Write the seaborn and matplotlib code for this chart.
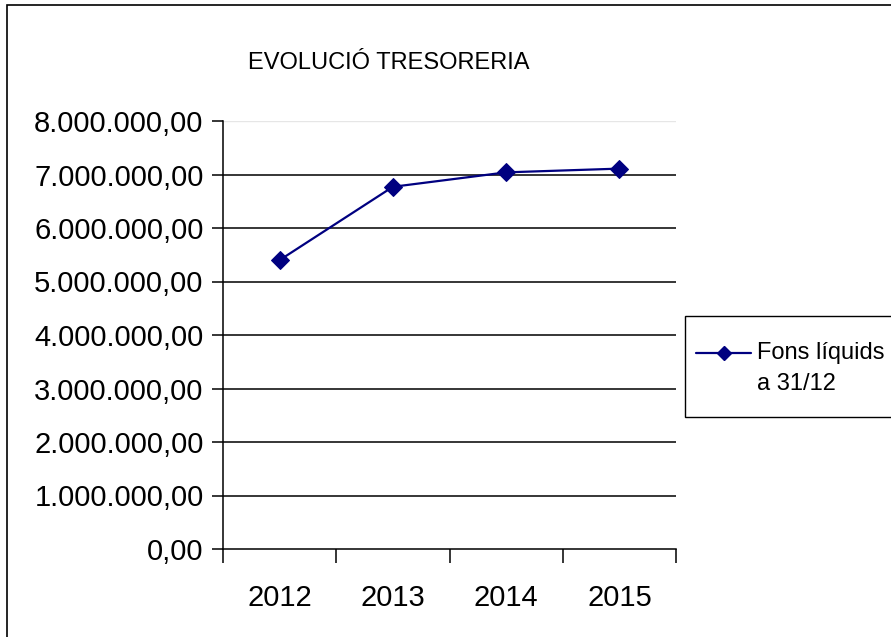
import numpy as np
import matplotlib
matplotlib.use("Agg")
import matplotlib.pyplot as plt
import matplotlib.ticker as mticker
import matplotlib.patches as mpatches
import seaborn as sns
import pandas as pd

years = ["2012", "2013", "2014", "2015"]
fons = [5400000, 6770000, 7040000, 7110000]
serie = "Fons líquids\na 31/12"
titol = "EVOLUCIÓ TRESORERIA"

df = pd.DataFrame({"any": years, "fons": fons})

sns.set_theme(style="white")
plt.rcParams['font.family'] = ['Liberation Sans', 'DejaVu Sans']
plt.rcParams['text.color'] = 'black'
plt.rcParams['xtick.color'] = 'black'
plt.rcParams['ytick.color'] = 'black'

W, H = 891, 637
fig = plt.figure(figsize=(W / 100, H / 100), dpi=100)
# plot area in pixels: x 223..676, y 121..549
ax = fig.add_axes([223 / W, 1 - 549 / H, (676 - 223) / W, (549 - 121) / H])

sns.lineplot(data=df, x="any", y="fons", ax=ax, color="#000080", marker="D",
             markersize=9, markeredgecolor="#000080", linewidth=1.6,
             sort=False, label=serie, legend=False)

ax.set_xlim(-0.5, len(years) - 0.5)
ax.set_ylim(0, 8000000)
ax.set_yticks(np.arange(0, 8000001, 1000000))


def fmt(v, pos):
    s = f"{v:,.2f}"
    return s.replace(",", "X").replace(".", ",").replace("X", ".")


ax.yaxis.set_major_formatter(mticker.FuncFormatter(fmt))
ax.set_xlabel("")
ax.set_ylabel("")

# gridlines
for v in range(1000000, 8000000, 1000000):
    ax.axhline(v, color="black", linewidth=1.1, zorder=0)
ax.axhline(8000000, color="#e6e6e6", linewidth=1.0, zorder=0)

for s in ["top", "right"]:
    ax.spines[s].set_visible(False)
for s in ["left", "bottom"]:
    ax.spines[s].set_visible(True)
    ax.spines[s].set_color("black")
    ax.spines[s].set_linewidth(1.1)

# x ticks on category boundaries
ax.set_xticks(np.arange(-0.5, len(years), 1.0))
ax.set_xticklabels([])
ax.set_xticks(np.arange(len(years)), minor=True)
ax.set_xticklabels(years, minor=True)
ax.tick_params(axis="x", which="major", direction="out", length=10, width=1.1,
               color="black", bottom=True)
ax.tick_params(axis="x", which="minor", length=0, labelsize=21, pad=25,
               labelcolor="black")
ax.tick_params(axis="y", direction="out", length=8, width=1.1, color="black",
               left=True, labelsize=21, pad=6, labelcolor="black")

fig.text(389 / W, 1 - 63 / H, titol, ha="center", va="center", fontsize=17)

# legend box
lx0, ly0, lx1, ly1 = 685, 316, 900, 417
fig.patches.append(mpatches.Rectangle((lx0 / W, 1 - ly1 / H), (lx1 - lx0) / W,
                                      (ly1 - ly0) / H, transform=fig.transFigure,
                                      facecolor="white", edgecolor="black",
                                      linewidth=1.0))
fig.lines.append(plt.Line2D([696 / W, 751 / W], [1 - 353 / H] * 2,
                            transform=fig.transFigure, color="#000080",
                            linewidth=1.6, marker=None))
fig.lines.append(plt.Line2D([723.5 / W], [1 - 353 / H], transform=fig.transFigure,
                            color="#000080", marker="D", markersize=7))
fig.text(757 / W, 1 - 353 / H, "Fons líquids", ha="left", va="center", fontsize=17)
fig.text(757 / W, 1 - 384 / H, "a 31/12", ha="left", va="center", fontsize=17)

# outer border
fig.patches.append(mpatches.Rectangle((7 / W, -0.1), 1.2, 1 - 5 / H + 0.1,
                                      transform=fig.transFigure, fill=False,
                                      edgecolor="black", linewidth=1.2))

fig.savefig("out.png", dpi=100)
